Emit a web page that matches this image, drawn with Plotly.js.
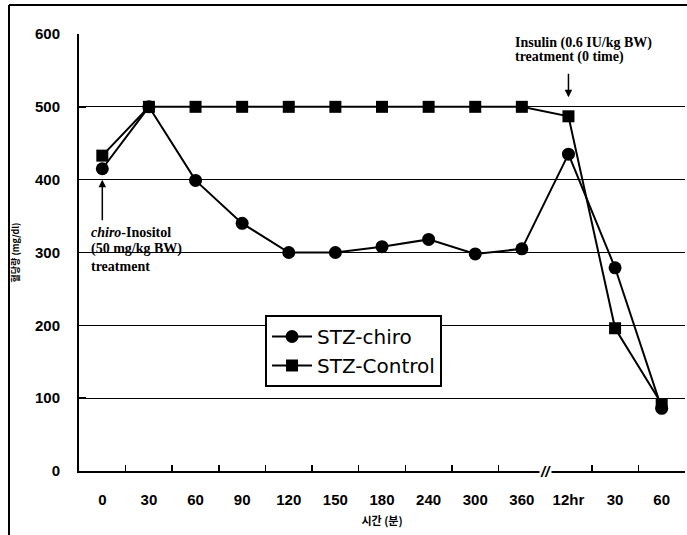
<!DOCTYPE html>
<html>
<head>
<meta charset="utf-8">
<script src="https://cdn.plot.ly/plotly-3.0.1.min.js"></script>
<style>html,body{margin:0;padding:0;background:#fff;}#chart{width:687px;height:535px;}</style>
</head>
<body>
<div id="chart"></div>
<script>
// Time categories (minutes, then after break: 12hr, 30, 60 min)
const categories = ['0', '30', '60', '90', '120', '150', '180', '240', '300', '360', '12hr', '30 ', '60 '];
const tickLabels = ['0', '30', '60', '90', '120', '150', '180', '240', '300', '360', '12hr', '30', '60'];
// Blood glucose (mg/dl)
const stzChiro = [415, 500, 399, 340, 300, 300, 308, 318, 298, 305, 435, 279, 86];
const stzControl = [433, 500, 500, 500, 500, 500, 500, 500, 500, 500, 487, 196, 92];
const yTicks = [0, 100, 200, 300, 400, 500, 600];
const gridVals = [100, 200, 300, 400, 500];

const traces = [
  {
    x: categories, y: stzChiro, name: 'STZ-chiro', type: 'scatter', mode: 'lines+markers',
    line: {color: '#000', width: 2}, marker: {symbol: 'circle', size: 13, color: '#000'}
  },
  {
    x: categories, y: stzControl, name: 'STZ-Control', type: 'scatter', mode: 'lines+markers',
    line: {color: '#000', width: 2}, marker: {symbol: 'square', size: 12, color: '#000'}
  },
  {
    x: categories, y: stzControl, yaxis: 'y2', type: 'scatter', mode: 'none',
    showlegend: false, hoverinfo: 'skip'
  }
];

const serif = 'Liberation Serif, Times New Roman, serif';
const layout = {
  width: 687, height: 535,
  margin: {l: 79, r: 2, t: 34, b: 64},
  paper_bgcolor: '#fff', plot_bgcolor: 'rgba(0,0,0,0)',
  font: {family: 'Liberation Sans, Arial, sans-serif', color: '#000'},
  xaxis: {
    type: 'category', range: [-0.5, 12.5],
    tickvals: categories, ticktext: tickLabels,
    tickson: 'boundaries', ticks: 'inside', ticklen: 6, tickwidth: 1.5, tickcolor: '#000',
    showline: true, linecolor: '#000', linewidth: 2, showgrid: false, zeroline: false,
    tickfont: {size: 15, family: 'Liberation Sans, Arial, sans-serif', weight: 'bold'},
    ticklabelstandoff: 14,
    title: {text: '시간 (분)', font: {size: 11, family: 'Noto Sans CJK KR', weight: 'bold'}, standoff: 10}
  },
  yaxis: {
    range: [0, 600], tickvals: yTicks,
    ticks: 'inside', ticklen: 7, tickwidth: 1.5, tickcolor: '#000',
    showline: true, linecolor: '#000', linewidth: 2, showgrid: false, zeroline: false,
    tickfont: {size: 15, family: 'Liberation Sans, Arial, sans-serif', weight: 'bold'},
    ticklabelstandoff: 14,
    title: {text: '혈당량 (mg/dl)', font: {size: 9, family: 'Noto Sans CJK KR', weight: 'bold'}, standoff: 14}
  },
  yaxis2: {
    overlaying: 'y', range: [0, 600], tickvals: gridVals, showticklabels: false, ticks: '',
    showgrid: true, gridcolor: '#000', gridwidth: 1.2, zeroline: false, showline: false
  },
  showlegend: true,
  legend: {
    x: 0.307, y: 0.357, xanchor: 'left', yanchor: 'top',
    bgcolor: '#fff', bordercolor: '#000', borderwidth: 2,
    font: {size: 20, family: 'DejaVu Sans, sans-serif', color: '#000'},
    itemwidth: 40, tracegroupgap: 0
  },
  annotations: [
    {xref: 'x', yref: 'y', x: 0, y: 400, ax: 0, ay: 42, text: '', showarrow: true,
     arrowhead: 2, arrowsize: 1, arrowwidth: 1.5, arrowcolor: '#000'},
    {xref: 'x', yref: 'y', x: 10, y: 513, ax: 0, ay: -25, text: '', showarrow: true,
     arrowhead: 2, arrowsize: 1, arrowwidth: 1.5, arrowcolor: '#000'},
    {xref: 'paper', yref: 'paper', x: (89 - 79) / 606, y: (471 - 232) / 437, xanchor: 'left', yanchor: 'middle',
     text: '<i>chiro</i>-Inositol', showarrow: false, font: {family: serif, size: 14, weight: 'bold'}},
    {xref: 'paper', yref: 'paper', x: (89 - 79) / 606, y: (471 - 249) / 437, xanchor: 'left', yanchor: 'middle',
     text: '(50 mg/kg BW)', showarrow: false, font: {family: serif, size: 14, weight: 'bold'}},
    {xref: 'paper', yref: 'paper', x: (89 - 79) / 606, y: (471 - 266) / 437, xanchor: 'left', yanchor: 'middle',
     text: 'treatment', showarrow: false, font: {family: serif, size: 14, weight: 'bold'}},
    {xref: 'paper', yref: 'paper', x: (513 - 79) / 606, y: (471 - 43) / 437, xanchor: 'left', yanchor: 'middle',
     text: 'Insulin (0.6 IU/kg BW)', showarrow: false, font: {family: serif, size: 14, weight: 'bold'}},
    {xref: 'paper', yref: 'paper', x: (513 - 79) / 606, y: (471 - 57) / 437, xanchor: 'left', yanchor: 'middle',
     text: 'treatment (0 time)', showarrow: false, font: {family: serif, size: 14, weight: 'bold'}},
    {xref: 'x', yref: 'paper', x: 9.5, y: 0, xanchor: 'center', yanchor: 'middle',
     text: '<b><i>//</i></b>', showarrow: false, bgcolor: '#fff', borderpad: 0,
     font: {family: 'Liberation Sans, Arial', size: 15, color: '#000'}}
  ],
  shapes: [
    {type: 'line', xref: 'paper', yref: 'paper', x0: (9 - 79) / 606, x1: (687 - 79) / 606,
     y0: (471 - 5) / 437, y1: (471 - 5) / 437, line: {color: '#000', width: 2}},
    {type: 'line', xref: 'paper', yref: 'paper', x0: (9 - 79) / 606, x1: (9 - 79) / 606,
     y0: (471 - 5) / 437, y1: (471 - 540) / 437, line: {color: '#000', width: 2}}
  ]
};

Plotly.newPlot('chart', traces, layout, {displayModeBar: false, staticPlot: true});
</script>
</body>
</html>
